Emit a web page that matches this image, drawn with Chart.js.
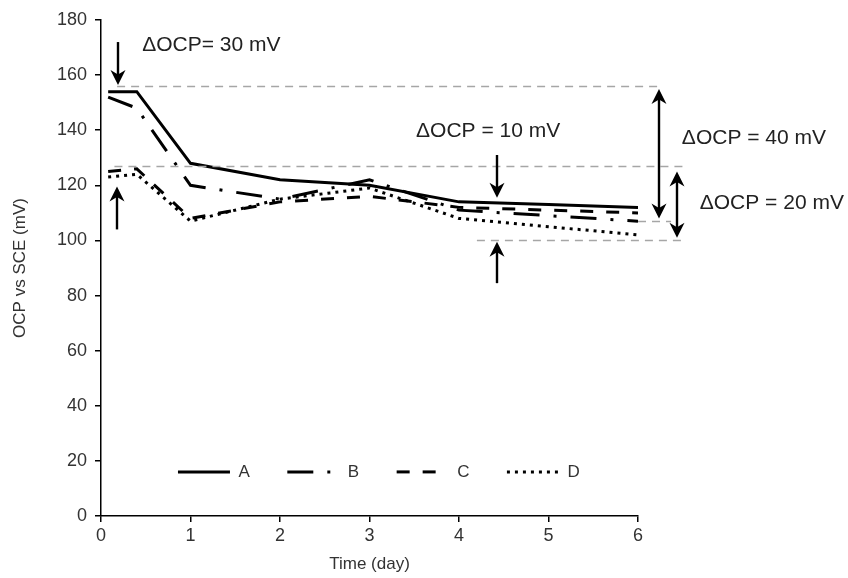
<!DOCTYPE html>
<html><head><meta charset="utf-8">
<script src="https://cdn.jsdelivr.net/npm/chart.js@4.4.0/dist/chart.umd.min.js"></script>
<style>html,body{margin:0;padding:0;background:#fff}</style>
</head><body>
<canvas id="c" width="848" height="578" style="width:848px;height:578px;display:block"></canvas>
<script>
// ---- data ----
const days    = [0.08, 0.4, 1, 2, 3, 4, 5, 6];
const seriesA = [154, 154, 128, 122, 120, 114, 113, 112];
const seriesB = [152, 148, 120, 115, 122, 111, 109, 107];
const seriesC = [125, 126, 108, 114, 116, 112, 111, 110];
const seriesD = [123, 124, 107, 115, 119, 108, 105, 102];
const seriesNames = ['A', 'B', 'C', 'D'];
const xTickValues = [0, 1, 2, 3, 4, 5, 6];
const yTickValues = [0, 20, 40, 60, 80, 100, 120, 140, 160, 180];
const xTitle = 'Time (day)';
const yTitle = 'OCP vs SCE (mV)';

// ---- annotations (data units) ----
const guideLines = [
  {y: 156, x0: 0.18, x1: 6.25},
  {y: 127, x0: 0.15, x1: 6.53},
  {y: 107, x0: 6.0,  x1: 6.37},
  {y: 100, x0: 4.2,  x1: 6.52}
];
const arrows = [
  {x: 0.19, from: 172, to: 156.4, both: false},
  {x: 0.18, from: 104, to: 119.6, both: false},
  {x: 4.42, from: 131, to: 115.5, both: false},
  {x: 4.42, from: 84.5, to: 99.5, both: false},
  {x: 6.24, from: 155, to: 108, both: true},
  {x: 6.44, from: 125, to: 101, both: true}
];
const labels = [
  {x: 0.46, y: 170.9, text: 'ΔOCP= 30 mV'},
  {x: 3.52, y: 139.7, text: 'ΔOCP = 10 mV'},
  {x: 6.49, y: 137.2, text: 'ΔOCP = 40 mV'},
  {x: 6.69, y: 113.6, text: 'ΔOCP = 20 mV'}
];

const FONT = "'Liberation Sans', Arial, sans-serif";
const TXT = '#333333';

function pts(arr) { return days.map((d, i) => ({x: d, y: arr[i]})); }

const dashes = [[], [26, 14, 3, 14], [13, 13], [3, 5]];
const allSeries = [seriesA, seriesB, seriesC, seriesD];

const datasets = allSeries.map((s, i) => ({
  label: seriesNames[i],
  data: pts(s),
  borderColor: '#000',
  backgroundColor: '#000',
  borderWidth: 3,
  borderDash: dashes[i],
  borderCapStyle: 'butt',
  pointRadius: 0,
  tension: 0,
  fill: false
}));

const LEG_PAD = 37.5;
const LEG_FS = 17;
const legendMover = {
  id: 'legendMover',
  beforeLayout(chart) {
    const lg = chart.legend;
    if (lg && !lg._patched) {
      const orig = Object.getPrototypeOf(lg).fit;
      lg.fit = function () {
        orig.call(this);
        this._realH = this.height;
        this.height = 0;
      };
      lg._patched = true;
    }
  },
  afterLayout(chart) {
    const lg = chart.legend;
    const y = chart.scales.y;
    const centerY = y.getPixelForValue(16);
    const x0 = chart.scales.x.getPixelForValue(0.86);
    const L = lg.lineWidths ? lg.lineWidths[0] : 400;
    lg.left = x0 - LEG_PAD;
    lg.right = lg.left + L + LEG_PAD + 20;
    lg.width = lg.right - lg.left;
    lg.top = centerY - LEG_PAD - LEG_FS / 2;
    lg.height = (lg._realH || 60) + 10;
    lg.bottom = lg.top + lg.height;
  }
};

const annot = {
  id: 'annot',
  afterDatasetsDraw(chart) {
    const ctx = chart.ctx, xs = chart.scales.x, ys = chart.scales.y;
    ctx.save();
    ctx.strokeStyle = '#a6a6a6';
    ctx.lineWidth = 1.5;
    ctx.setLineDash([8, 6]);
    guideLines.forEach(g => {
      const py = Math.round(ys.getPixelForValue(g.y)) + 0.5;
      ctx.beginPath();
      ctx.moveTo(xs.getPixelForValue(g.x0), py);
      ctx.lineTo(xs.getPixelForValue(g.x1), py);
      ctx.stroke();
    });
    ctx.setLineDash([]);
    ctx.strokeStyle = '#000';
    ctx.fillStyle = '#000';
    ctx.lineWidth = 2.4;
    const HL = 15, HW = 7.5;
    function head(px, tipY, dir) {
      ctx.beginPath();
      ctx.moveTo(px, tipY);
      ctx.lineTo(px - HW, tipY - dir * HL);
      ctx.lineTo(px, tipY - dir * HL * 0.7);
      ctx.lineTo(px + HW, tipY - dir * HL);
      ctx.closePath();
      ctx.fill();
    }
    arrows.forEach(a => {
      const px = Math.round(xs.getPixelForValue(a.x));
      const y1 = ys.getPixelForValue(a.from);
      const y2 = ys.getPixelForValue(a.to);
      const dir = y2 > y1 ? 1 : -1;
      ctx.beginPath();
      ctx.moveTo(px, a.both ? y1 + dir * HL * 0.6 : y1);
      ctx.lineTo(px, y2 - dir * HL * 0.6);
      ctx.stroke();
      head(px, y2, dir);
      if (a.both) head(px, y1, -dir);
    });
    ctx.font = '21px ' + FONT;
    ctx.fillStyle = '#222';
    ctx.textBaseline = 'middle';
    ctx.textAlign = 'left';
    labels.forEach(l => {
      ctx.fillText(l.text, xs.getPixelForValue(l.x), ys.getPixelForValue(l.y));
    });
    ctx.restore();
  }
};

new Chart(document.getElementById('c'), {
  type: 'line',
  data: {datasets},
  options: {
    responsive: false,
    animation: false,
    events: [],
    layout: {padding: {left: 0, right: 210, top: 20, bottom: 0}},
    plugins: {
      tooltip: {enabled: false},
      legend: {
        display: true,
        position: 'bottom',
        align: 'start',
        labels: {
          usePointStyle: true,
          pointStyle: 'line',
          pointStyleWidth: 52,
          padding: LEG_PAD,
          color: TXT,
          font: {family: FONT, size: LEG_FS},
          generateLabels(chart) {
            const items = Chart.defaults.plugins.legend.labels.generateLabels(chart);
            items.forEach(it => {
              const ds = chart.data.datasets[it.datasetIndex];
              it.lineDash = ds.borderDash;
              it.lineWidth = ds.borderWidth;
              it.strokeStyle = ds.borderColor;
              it.fillStyle = ds.borderColor;
              it.lineCap = 'butt';
              it.pointStyle = 'line';
            });
            return items;
          }
        }
      }
    },
    scales: {
      x: {
        type: 'linear',
        min: 0, max: 6,
        afterBuildTicks(s) { s.ticks = xTickValues.map(v => ({value: v})); },
        afterFit(s) { s.height = 62; },
        ticks: {color: TXT, font: {family: FONT, size: 18}, padding: 3, maxRotation: 0},
        grid: {display: true, drawOnChartArea: false, drawTicks: true, tickLength: 6, color: '#000', lineWidth: 1.5},
        border: {display: true, color: '#000', width: 1.5},
        title: {display: true, text: xTitle, color: TXT, font: {family: FONT, size: 17}, padding: {top: 0, bottom: 3}}
      },
      y: {
        type: 'linear',
        min: 0, max: 180,
        afterBuildTicks(s) { s.ticks = yTickValues.map(v => ({value: v})); },
        afterFit(s) { s.width = 101; },
        ticks: {color: TXT, font: {family: FONT, size: 18}, padding: 8},
        grid: {display: true, drawOnChartArea: false, drawTicks: true, tickLength: 6, color: '#000', lineWidth: 1.5},
        border: {display: true, color: '#000', width: 1.5},
        title: {display: true, text: yTitle, color: TXT, font: {family: FONT, size: 17}, padding: {top: 10, bottom: 0}}
      }
    }
  },
  plugins: [legendMover, annot]
});
</script>
</body></html>
